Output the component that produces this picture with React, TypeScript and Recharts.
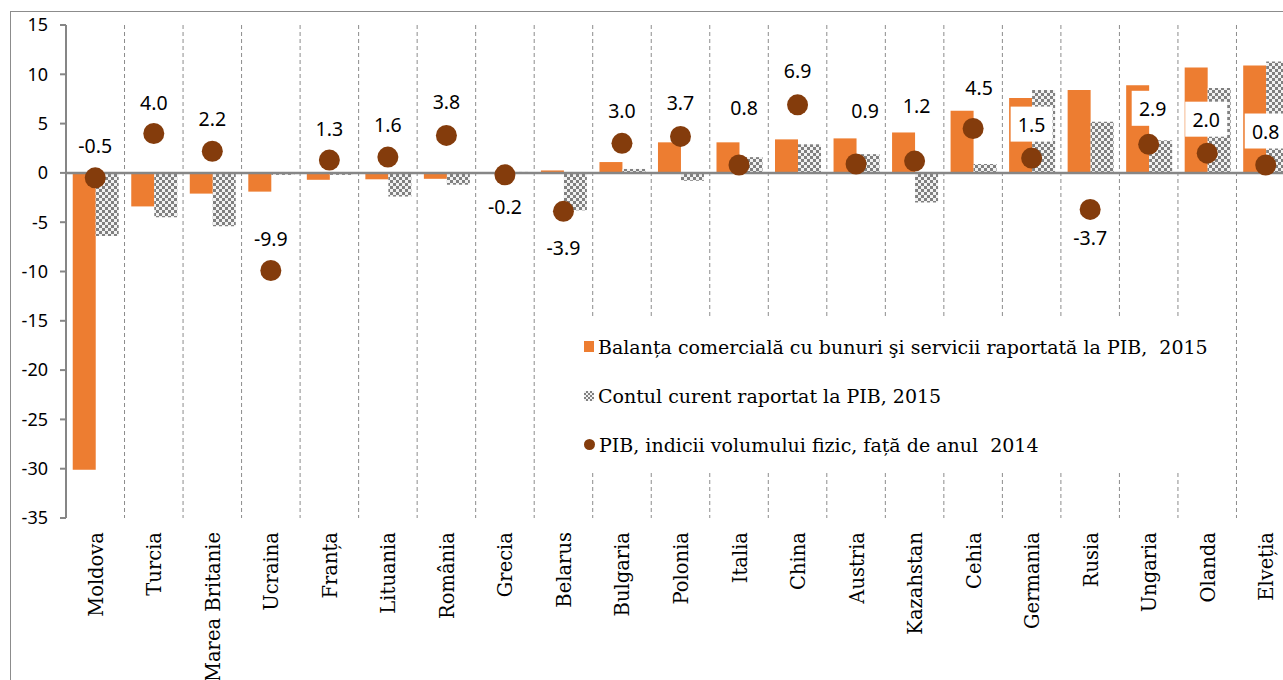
import React from 'react';
import { ComposedChart, Bar, Scatter, XAxis, YAxis, CartesianGrid, ReferenceLine, Legend } from 'recharts';

const countries = [
  'Moldova', 'Turcia', 'Marea Britanie', 'Ucraina', 'Franța', 'Lituania', 'România', 'Grecia', 'Belarus',
  'Bulgaria', 'Polonia', 'Italia', 'China', 'Austria', 'Kazahstan', 'Cehia', 'Germania', 'Rusia', 'Ungaria',
  'Olanda', 'Elveția',
];
// Balanța comercială cu bunuri şi servicii, % din PIB, 2015
const tradeBalance = [-30.1, -3.4, -2.1, -1.9, -0.7, -0.65, -0.6, -0.1, 0.25, 1.1, 3.1, 3.1, 3.4, 3.5, 4.1, 6.3, 7.6, 8.4, 8.9, 10.7, 10.9];
// Contul curent, % din PIB, 2015
const currentAccount = [-6.4, -4.5, -5.4, -0.2, -0.2, -2.4, -1.2, 0.1, -3.8, 0.4, -0.8, 1.6, 2.9, 1.9, -3.0, 0.9, 8.4, 5.2, 3.3, 8.6, 11.3];
// PIB, indicii volumului fizic fata de 2014
const gdpGrowth = [-0.5, 4.0, 2.2, -9.9, 1.3, 1.6, 3.8, -0.2, -3.9, 3.0, 3.7, 0.8, 6.9, 0.9, 1.2, 4.5, 1.5, -3.7, 2.9, 2.0, 0.8];
const yTicks = [15, 10, 5, 0, -5, -10, -15, -20, -25, -30, -35];

const legendNames = [
  'Balanța comercială cu bunuri şi servicii raportată la PIB,  2015',
  'Contul curent raportat la PIB, 2015',
  'PIB, indicii volumului fizic, față de anul  2014',
];

// where each dot label sits relative to its dot (layout only)
const labelPos: Record<string, { dx: number; dy: number; box?: boolean }> = {
  Moldova: { dx: 0, dy: -32 },
  Turcia: { dx: 0, dy: -31 },
  'Marea Britanie': { dx: 0, dy: -33 },
  Ucraina: { dx: 0, dy: -32 },
  Franța: { dx: 0, dy: -32 },
  Lituania: { dx: 0, dy: -33 },
  România: { dx: 0, dy: -34 },
  Grecia: { dx: 0, dy: 32 },
  Belarus: { dx: 0, dy: 36 },
  Bulgaria: { dx: 0, dy: -33 },
  Polonia: { dx: 0, dy: -34 },
  Italia: { dx: 5, dy: -58 },
  China: { dx: 0, dy: -34 },
  Austria: { dx: 9, dy: -54 },
  Kazahstan: { dx: 2, dy: -56 },
  Cehia: { dx: 6, dy: -41 },
  Germania: { dx: 0, dy: -34, box: true },
  Rusia: { dx: 0, dy: 28 },
  Ungaria: { dx: 4, dy: -36, box: true },
  Olanda: { dx: -1, dy: -34, box: true },
  Elveția: { dx: 0, dy: -34, box: true },
};

const data = countries.map((country, i) => ({
  country,
  trade: tradeBalance[i],
  account: currentAccount[i],
  gdp: gdpGrowth[i],
}));

const ORANGE = '#ED7D31';
const BROWN = '#843C0C';
const AXIS = '#868686';
const SERIF = '"DejaVu Serif", serif';
const SANS = '"Noto Sans", sans-serif';

const CountryTick = (props: any) => {
  const { x, y, payload } = props;
  return (
    <text
      x={x + 1}
      y={y}
      transform={`rotate(-90, ${x + 1}, ${y})`}
      textAnchor="end"
      dominantBaseline="central"
      fontFamily={SERIF}
      fontSize={19.5}
      fill="#000"
    >
      {payload.value}
    </text>
  );
};

const GdpDot = (props: any) => {
  const { cx, cy, payload } = props;
  const p = labelPos[payload.country] || { dx: 0, dy: -32 };
  const lx = cx + p.dx;
  const ly = cy + p.dy;
  return (
    <g>
      <circle cx={cx} cy={cy} r={10.5} fill={BROWN} />
      {p.box && <rect x={lx - 21} y={ly - 17.5} width={42} height={35} fill="#fff" />}
      <text x={lx} y={ly} textAnchor="middle" dominantBaseline="central" fontFamily={SANS} fontSize={19.5} fill="#000">
        {payload.gdp.toFixed(1)}
      </text>
    </g>
  );
};

const LegendBox = () => {
  const icons = [
    <span style={{ display: 'inline-block', width: 10, height: 11, background: ORANGE }} />,
    <span
      style={{
        display: 'inline-block',
        width: 10,
        height: 10,
        background: 'repeating-conic-gradient(#808080 0 25%, #f2f2f2 0 50%) 0 0 / 4px 4px',
      }}
    />,
    <span style={{ display: 'inline-block', width: 11, height: 11, borderRadius: '50%', background: BROWN }} />,
  ];
  return (
    <div style={{ background: '#fff', padding: '4px 0 0 8px', width: 650, height: 152, boxSizing: 'border-box' }}>
      {legendNames.map((name, i) => (
        <div key={name} style={{ display: 'flex', alignItems: 'center', height: 49 }}>
          {icons[i]}
          <span style={{ fontFamily: SERIF, fontSize: 19, color: '#000', marginLeft: 4, whiteSpace: 'pre' }}>{name}</span>
        </div>
      ))}
    </div>
  );
};

export default function App() {
  return (
    <div style={{ position: 'absolute', left: 0, top: 0, width: 1283, height: 680, overflow: 'hidden', background: '#fff' }}>
      <div
        style={{
          position: 'absolute',
          left: 10,
          top: 11,
          width: 2000,
          height: 2000,
          borderLeft: '1px solid #8c8c8c',
          borderTop: '1px solid #8c8c8c',
        }}
      />
      <div style={{ position: 'absolute', left: 0, top: 0 }}>
        <ComposedChart
          width={1310}
          height={680}
          data={data}
          margin={{ top: 25, right: 15, left: 0, bottom: 0 }}
          barCategoryGap="11.5%"
          barGap={0}
        >
          <defs>
            <pattern id="checker" patternUnits="userSpaceOnUse" width={6} height={6}>
              <rect width={6} height={6} fill="#f2f2f2" />
              <rect width={3} height={3} fill="#808080" />
              <rect x={3} y={3} width={3} height={3} fill="#808080" />
            </pattern>
          </defs>
          <CartesianGrid
            horizontal={false}
            stroke="#8c8c8c"
            strokeDasharray="4 3"
            verticalCoordinatesGenerator={({ offset }: any) => {
              const step = offset.width / countries.length;
              return countries.map((_, i) => offset.left + step * (i + 1));
            }}
          />
          <XAxis
            dataKey="country"
            interval={0}
            axisLine={false}
            tickLine={false}
            tickSize={0}
            tickMargin={14}
            height={162}
            tick={<CountryTick />}
          />
          <YAxis
            type="number"
            domain={[-35, 15]}
            ticks={yTicks}
            interval={0}
            width={66}
            stroke={AXIS}
            strokeWidth={2}
            tickSize={6}
            tickMargin={12}
            tick={{ fill: '#000', fontFamily: SANS, fontSize: 18 }}
          />
          <Legend
            layout="vertical"
            align="center"
            verticalAlign="middle"
            content={<LegendBox />}
            wrapperStyle={{ left: 576, top: 318, width: 650 }}
          />
          <Bar dataKey="trade" name={legendNames[0]} fill={ORANGE} isAnimationActive={false} />
          <Bar dataKey="account" name={legendNames[1]} fill="url(#checker)" isAnimationActive={false} />
          <ReferenceLine y={0} stroke={AXIS} strokeWidth={2.5} />
          <Scatter dataKey="gdp" name={legendNames[2]} shape={<GdpDot />} isAnimationActive={false} />
        </ComposedChart>
      </div>
    </div>
  );
}
